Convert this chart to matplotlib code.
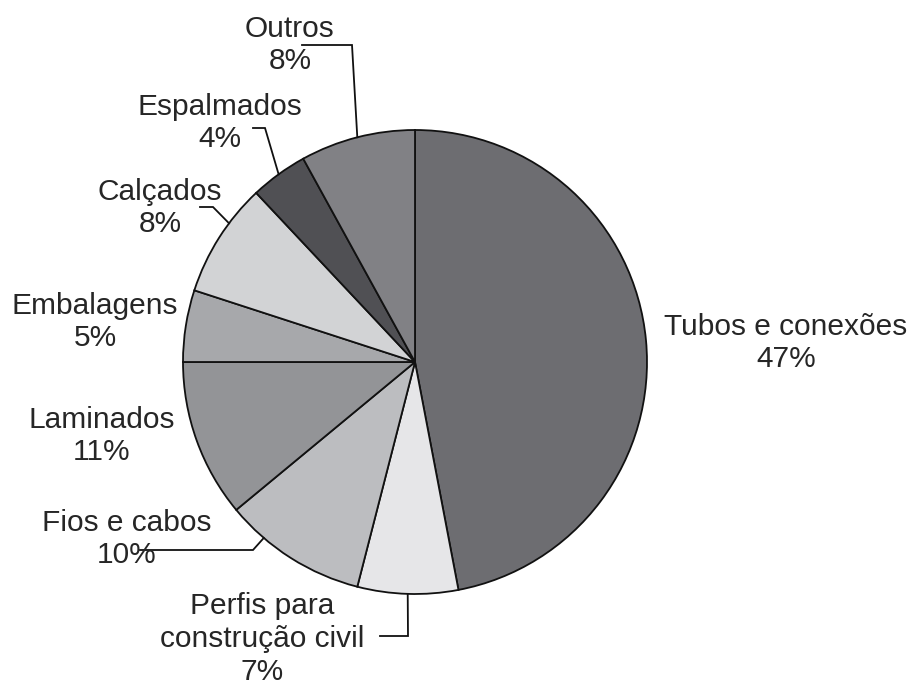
import numpy as np
import matplotlib
matplotlib.use("Agg")
import matplotlib.pyplot as plt

# ---- data ----
categories = ["Tubos e conexões", "Perfis para\nconstrução civil", "Fios e cabos",
              "Laminados", "Embalagens", "Calçados", "Espalmados", "Outros"]
percent = [47, 7, 10, 11, 5, 8, 4, 8]
colors = ["#6d6d71", "#e6e6e8", "#bcbdc0", "#939497", "#a7a8ab", "#d2d3d5", "#505054", "#818185"]

# ---- layout (pixel coordinates, y measured from top) ----
W, H = 912, 684
cx, cy, R = 415, 362, 232
# label centre positions (x, y of the text block centre)
label_pos = {
    "Tubos e conexões": (786, 343),
    "Perfis para\nconstrução civil": (262, 639),
    "Fios e cabos": (127, 539),
    "Laminados": (102, 436),
    "Embalagens": (95, 322),
    "Calçados": (160, 208),
    "Espalmados": (220, 123),
    "Outros": (290, 45),
}
# leader lines: (fraction along wedge from its lower-angle edge, elbow points)
leaders = {
    "Outros": (0.5, [(302, 45), (352, 45)]),
    "Espalmados": (0.5, [(253, 128), (265, 128)]),
    "Calçados": (0.35, [(200, 207), (213, 207)]),
    "Fios e cabos": (0.27, [(140, 550), (253, 550)]),
    "Perfis para\nconstrução civil": (0.5, [(380, 636), (408, 636)]),
}

fig = plt.figure(figsize=(W / 100, H / 100), dpi=100)
ax = fig.add_axes([0, 0, 1, 1])

wedges, _ = ax.pie(percent, colors=colors, startangle=90, counterclock=False,
                   center=(cx, H - cy), radius=R,
                   wedgeprops=dict(edgecolor="#111111", linewidth=1.3))
ax.set_xlim(0, W)
ax.set_ylim(0, H)
ax.set_aspect("equal")
ax.axis("off")

font = dict(family=["Liberation Sans", "DejaVu Sans"], fontsize=21.5, color="#262626")
pct_of = dict(zip(categories, percent))
for cat, (lx, ly) in label_pos.items():
    ax.text(lx, H - ly, f"{cat}\n{pct_of[cat]}%", ha="center", va="center",
            multialignment="center", linespacing=1.22, **font)

wedge_of = dict(zip(categories, wedges))
for cat, (frac, pts) in leaders.items():
    w = wedge_of[cat]
    ang = np.deg2rad(w.theta1 + (w.theta2 - w.theta1) * frac)
    ax_x = cx + R * np.cos(ang)
    ax_y = (H - cy) + R * np.sin(ang)
    xs = [p[0] for p in pts] + [ax_x]
    ys = [H - p[1] for p in pts] + [ax_y]
    ax.plot(xs, ys, color="#111111", linewidth=1.3, solid_joinstyle="miter")

fig.savefig("out.png", dpi=100, facecolor="white")
